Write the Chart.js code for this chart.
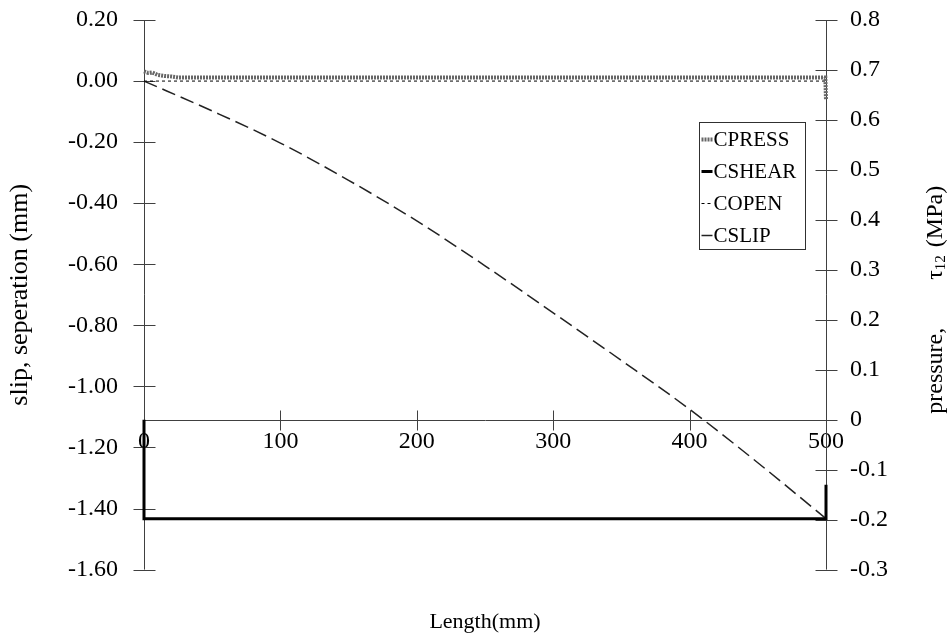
<!DOCTYPE html>
<html>
<head>
<meta charset="utf-8">
<script src="https://cdn.jsdelivr.net/npm/chart.js@4.4.0/dist/chart.umd.min.js"></script>
<style>
html,body{margin:0;padding:0;background:#fff;}
#wrap{width:947px;height:639px;position:relative;}
</style>
</head>
<body>
<div id="wrap"><canvas id="c" width="947" height="639"></canvas></div>
<script>
// ---------- data ----------
const pressLength = [0, 3, 6, 10, 15, 20, 25, 499.5, 500];
const pressValues = [0.697, 0.694, 0.695, 0.690, 0.688, 0.687, 0.685, 0.685, 0.64];

const shearLength = [0, 0, 500, 500];
const shearValues = [0, -0.198, -0.198, -0.13];

const openLength = [0, 500];
const openValues = [0, 0];

const slipLength = [0, 50, 100, 150, 200, 250, 300, 350, 400, 450, 500];
const slipValues = [0, -0.098, -0.203, -0.325, -0.458, -0.605, -0.759, -0.915, -1.075, -1.25, -1.433];

const seriesNames = ['CPRESS', 'CSHEAR', 'COPEN', 'CSLIP'];

const xRange = [0, 500, 100];          // min, max, step
const leftRange = [-1.6, 0.2, 0.2];
const rightRange = [-0.3, 0.8, 0.1];

const xTitle = 'Length(mm)';
const leftTitle = 'slip, seperation (mm)';
const rightTitleParts = ['pressure,', '\u03C4', '12', '(MPa)'];

// ---------- helpers ----------
const SERIF = "'Liberation Serif', 'Times New Roman', serif";
function pts(xs, ys) { return xs.map((x, i) => ({x: x, y: ys[i]})); }

const axesPlugin = {
  id: 'axesPlugin',
  beforeDatasetsDraw(chart) {
    const {ctx, chartArea: ca, scales} = chart;
    const xs = scales.x, ys = scales.y, y2s = scales.y2;
    const L = Math.round(ca.left) + 0.5, R = Math.round(ca.right) + 0.5;
    const y0 = Math.round(y2s.getPixelForValue(0)) + 0.5;
    ctx.save();
    ctx.strokeStyle = '#404040';
    ctx.lineWidth = 1;
    ctx.beginPath();
    // left axis
    ctx.moveTo(L, ys.getPixelForValue(leftRange[1]));
    ctx.lineTo(L, ys.getPixelForValue(leftRange[0]));
    ys.ticks.forEach(t => {
      const p = Math.round(ys.getPixelForValue(t.value)) + 0.5;
      ctx.moveTo(L - 11, p); ctx.lineTo(L + 11, p);
    });
    // right axis
    ctx.moveTo(R, y2s.getPixelForValue(rightRange[1]));
    ctx.lineTo(R, y2s.getPixelForValue(rightRange[0]));
    y2s.ticks.forEach(t => {
      const p = Math.round(y2s.getPixelForValue(t.value)) + 0.5;
      ctx.moveTo(R - 11, p); ctx.lineTo(R + 11, p);
    });
    // x axis at pressure = 0
    ctx.moveTo(L, y0); ctx.lineTo(R, y0);
    xs.ticks.forEach(t => {
      const p = Math.round(xs.getPixelForValue(t.value)) + 0.5;
      ctx.moveTo(p, y0 - 10); ctx.lineTo(p, y0 + 10);
    });
    ctx.stroke();
    ctx.restore();
  },
  afterDatasetsDraw(chart) {
    const {ctx, chartArea: ca} = chart;
    // legend box
    const bx = Math.round(ca.right) - 126.5, by = 122.5, bw = 106, bh = 127;
    ctx.save();
    ctx.fillStyle = '#fff';
    ctx.fillRect(bx, by, bw, bh);
    ctx.strokeStyle = '#303030';
    ctx.lineWidth = 1;
    ctx.strokeRect(bx, by, bw, bh);
    ctx.font = '21px ' + SERIF;
    ctx.textBaseline = 'middle';
    ctx.fillStyle = '#000';
    chart.data.datasets.forEach((ds, i) => {
      const cy = by + 17 + i * 32;
      ctx.save();
      ctx.strokeStyle = ds.borderColor;
      ctx.lineWidth = ds.borderWidth;
      ctx.setLineDash(ds.borderDash || []);
      ctx.beginPath();
      ctx.moveTo(bx + 2, cy); ctx.lineTo(bx + 13, cy);
      ctx.stroke();
      ctx.restore();
      ctx.fillText(ds.label, bx + 14, cy + 1);
    });
    ctx.restore();
  },
  afterDraw(chart) {
    const {ctx, chartArea: ca} = chart;
    ctx.save();
    ctx.translate(936, (ca.top + ca.bottom) / 2 + 5);
    ctx.rotate(-Math.PI / 2);
    ctx.fillStyle = '#000';
    ctx.textBaseline = 'middle';
    ctx.textAlign = 'left';
    const big = '24px ' + SERIF, small = '15px ' + SERIF;
    ctx.font = big;
    const w0 = ctx.measureText(rightTitleParts[0]).width;
    const w1 = ctx.measureText(rightTitleParts[1]).width;
    const w3 = ctx.measureText(rightTitleParts[3]).width;
    ctx.font = small;
    const w2 = ctx.measureText(rightTitleParts[2]).width;
    const gapA = 48, gapB = 8;
    const total = w0 + gapA + w1 + w2 + gapB + w3;
    let cx = -total / 2;
    ctx.font = big;
    ctx.fillText(rightTitleParts[0], cx, 0); cx += w0 + gapA;
    ctx.fillText(rightTitleParts[1], cx, 0); cx += w1;
    ctx.font = small;
    ctx.fillText(rightTitleParts[2], cx, 5); cx += w2 + gapB;
    ctx.font = big;
    ctx.fillText(rightTitleParts[3], cx, 0);
    ctx.restore();
  }
};

const tickFont = {family: SERIF, size: 24};
const hiddenTickGrid = len => ({display: true, drawOnChartArea: false, drawTicks: true,
                                tickLength: len, tickColor: 'rgba(0,0,0,0)', color: 'rgba(0,0,0,0)'});

new Chart(document.getElementById('c'), {
  type: 'scatter',
  data: {
    datasets: [
      {label: seriesNames[0], data: pts(pressLength, pressValues), yAxisID: 'y2',
       showLine: true, borderColor: '#666', borderWidth: 4, borderDash: [2, 1],
       pointRadius: 0, clip: false},
      {label: seriesNames[1], data: pts(shearLength, shearValues), yAxisID: 'y2',
       showLine: true, borderColor: '#000', borderWidth: 3,
       pointRadius: 0, clip: false},
      {label: seriesNames[2], data: pts(openLength, openValues), yAxisID: 'y',
       showLine: true, borderColor: '#000', borderWidth: 1, borderDash: [3, 3],
       pointRadius: 0, clip: false},
      {label: seriesNames[3], data: pts(slipLength, slipValues), yAxisID: 'y',
       showLine: true, borderColor: '#222', borderWidth: 1.5, borderDash: [14, 6],
       cubicInterpolationMode: 'monotone', pointRadius: 0, clip: false}
    ]
  },
  options: {
    responsive: false,
    animation: false,
    devicePixelRatio: 1,
    layout: {padding: {top: 20, left: 0, right: 0, bottom: 0}},
    plugins: {
      legend: {display: false},
      tooltip: {enabled: false},
      title: {display: true, text: xTitle, position: 'bottom', color: '#000', fullSize: false,
              font: {family: SERIF, size: 22, weight: 'normal'},
              padding: {top: 39, bottom: 4}}
    },
    scales: {
      x: {
        type: 'linear', min: xRange[0], max: xRange[1], position: {y2: 0},
        ticks: {stepSize: xRange[2], color: '#000', font: tickFont, padding: 8,
                maxRotation: 0, autoSkip: false},
        grid: {display: false, drawTicks: false},
        border: {display: false}
      },
      y: {
        type: 'linear', position: 'left', min: leftRange[0], max: leftRange[1],
        ticks: {stepSize: leftRange[2], color: '#000', font: tickFont, padding: 0,
                callback: v => (Math.abs(v) < 1e-9 ? 0 : v).toFixed(2)},
        grid: hiddenTickGrid(26),
        border: {display: false},
        title: {display: true, text: leftTitle, color: '#000',
                font: {family: SERIF, size: 26}, padding: {top: 5, bottom: 0}},
        afterFit: s => { s.width = 144; }
      },
      y2: {
        type: 'linear', position: 'right', min: rightRange[0], max: rightRange[1],
        ticks: {stepSize: rightRange[2], color: '#000', font: tickFont, padding: 0,
                callback: v => (Math.abs(v) < 1e-9 ? '0' : v.toFixed(1))},
        grid: hiddenTickGrid(24),
        border: {display: false},
        afterFit: s => { s.width = 121; }
      }
    }
  },
  plugins: [axesPlugin]
});
</script>
</body>
</html>
